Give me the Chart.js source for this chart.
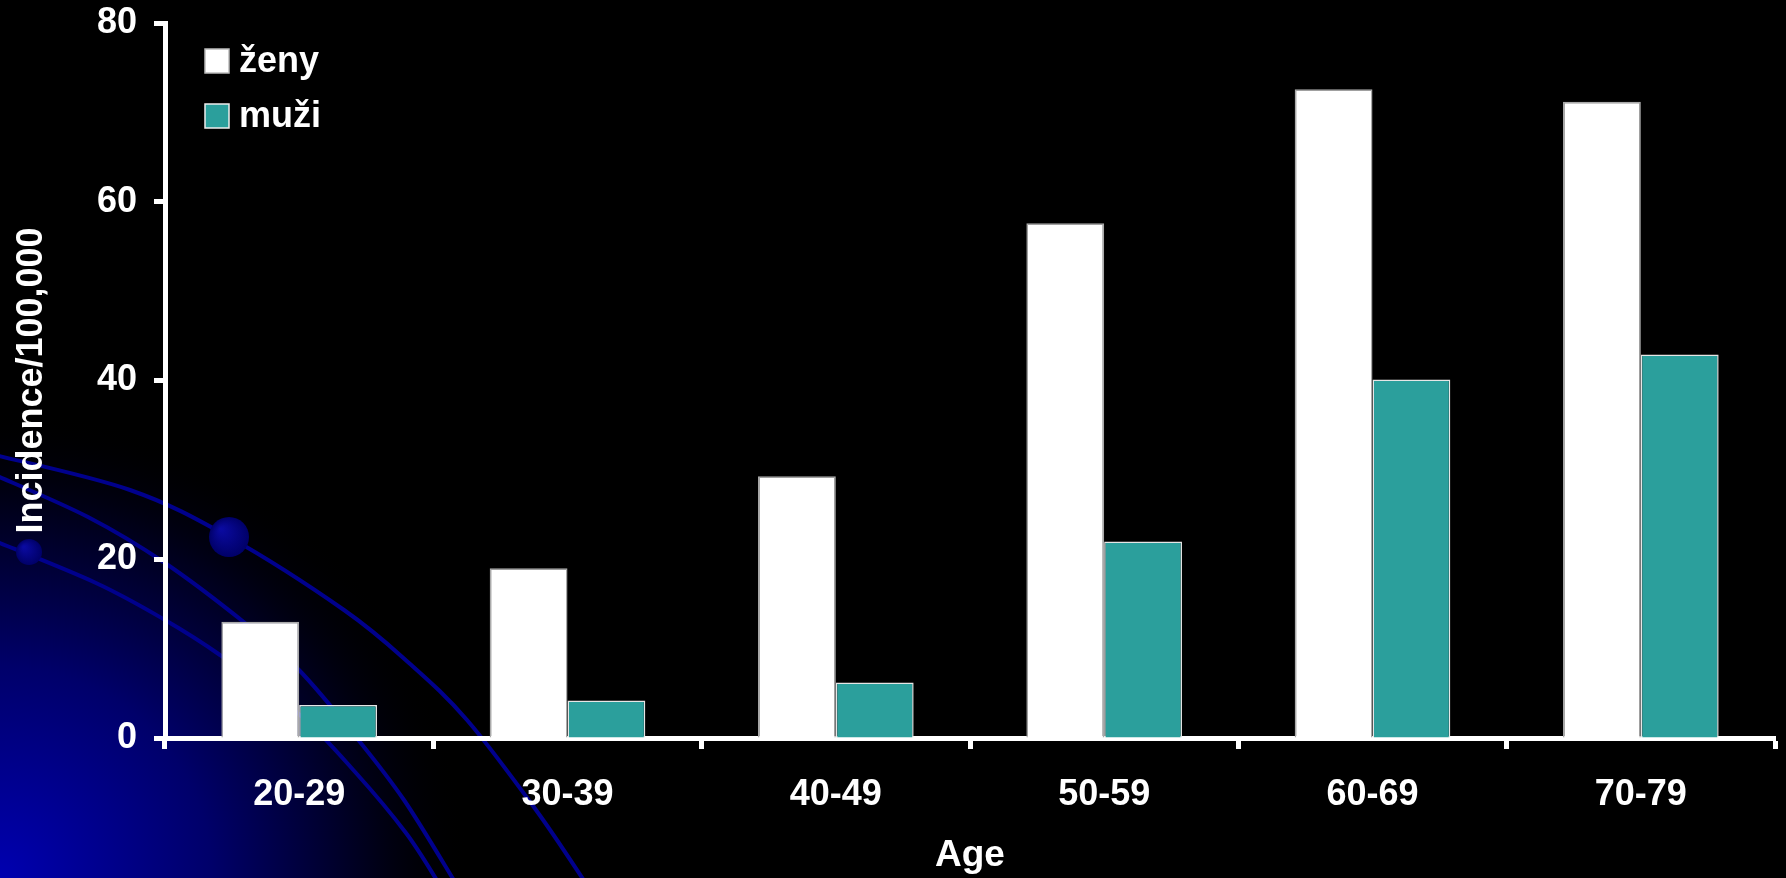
<!DOCTYPE html>
<html>
<head>
<meta charset="utf-8">
<script src="https://cdn.jsdelivr.net/npm/chart.js@4.4.1/dist/chart.umd.min.js"></script>
<style>
  html, body { margin: 0; padding: 0; background: #000; }
  #wrap { width: 1786px; height: 878px; }
</style>
</head>
<body>
<div id="wrap"><canvas id="c" width="1786" height="878"></canvas></div>
<script>
const categories = ['20-29', '30-39', '40-49', '50-59', '60-69', '70-79'];
const zenyValues = [13.0, 19.0, 29.3, 57.6, 72.6, 71.2];
const muziValues = [3.7, 4.2, 6.2, 22.0, 40.1, 42.9];
const seriesLabels = ['ženy', 'muži'];
const yTickValues = [0, 20, 40, 60, 80];
const xTitle = 'Age';
const yTitle = 'Incidence/100,000';

const FONT = "'Liberation Sans', Arial, sans-serif";

function smoothPath(ctx, pts) {
  ctx.moveTo(pts[0][0], pts[0][1]);
  for (let i = 0; i < pts.length - 1; i++) {
    const p0 = pts[Math.max(i - 1, 0)], p1 = pts[i], p2 = pts[i + 1], p3 = pts[Math.min(i + 2, pts.length - 1)];
    const c1x = p1[0] + (p2[0] - p0[0]) / 6, c1y = p1[1] + (p2[1] - p0[1]) / 6;
    const c2x = p2[0] - (p3[0] - p1[0]) / 6, c2y = p2[1] - (p3[1] - p1[1]) / 6;
    ctx.bezierCurveTo(c1x, c1y, c2x, c2y, p2[0], p2[1]);
  }
}

const backgroundPlugin = {
  id: 'bgDecor',
  beforeDraw(chart) {
    const ctx = chart.ctx;
    const W = chart.width, H = chart.height;
    ctx.save();
    ctx.fillStyle = '#000';
    ctx.fillRect(0, 0, W, H);
    const g = ctx.createRadialGradient(0, H, 0, 0, H, 470);
    g.addColorStop(0, '#0000b0');
    g.addColorStop(0.45, '#00006a');
    g.addColorStop(0.8, '#000018');
    g.addColorStop(1, 'rgba(0,0,0,0)');
    ctx.fillStyle = g;
    ctx.fillRect(0, 0, W, H);

    ctx.strokeStyle = '#00008c';
    ctx.lineWidth = 4;
    const curves = [
      [[-5,455],[130,490],[229,537],[344,610],[409,663],[467,720],[536,810],[585,882]],
      [[-5,475],[88,517],[165,563],[245,623],[299,670],[356,737],[404,800],[455,882]],
      [[-5,541],[96,583],[165,620],[220,655],[300,715],[356,773],[406,833],[438,882]]
    ];
    curves.forEach(pts => { ctx.beginPath(); smoothPath(ctx, pts); ctx.stroke(); });

    const circles = [[229, 537, 20], [29, 552, 13]];
    circles.forEach(([cx, cy, r]) => {
      const cg = ctx.createRadialGradient(cx - r * 0.4, cy - r * 0.4, 1, cx, cy, r);
      cg.addColorStop(0, '#0a0aa0');
      cg.addColorStop(1, '#000068');
      ctx.fillStyle = cg;
      ctx.beginPath();
      ctx.ellipse(cx, cy, r, r, 0, 0, Math.PI * 2);
      ctx.fill();
    });
    ctx.restore();
  }
};

const legendPlugin = {
  id: 'insideLegend',
  afterDraw(chart) {
    const ctx = chart.ctx;
    ctx.save();
    chart.data.datasets.forEach((ds, i) => {
      const y = 49 + i * 55;
      ctx.fillStyle = ds.backgroundColor;
      ctx.fillRect(205, y, 24, 24);
      ctx.strokeStyle = i === 0 ? '#bbbbbb' : '#eeeeee';
      ctx.lineWidth = 1.5;
      ctx.strokeRect(205, y, 24, 24);
      ctx.fillStyle = '#ffffff';
      ctx.font = 'bold 36px ' + FONT;
      ctx.textBaseline = 'middle';
      ctx.textAlign = 'left';
      ctx.fillText(ds.label, 239, y + 13);
    });
    ctx.restore();
  }
};

new Chart(document.getElementById('c'), {
  type: 'bar',
  data: {
    labels: categories,
    datasets: [
      { label: seriesLabels[0], data: zenyValues, backgroundColor: '#ffffff', borderColor: '#aaaaaa', borderWidth: 1.5, borderSkipped: 'bottom' },
      { label: seriesLabels[1], data: muziValues, backgroundColor: '#2b9f9c', borderColor: '#e6e6e6', borderWidth: 1.5, borderSkipped: 'bottom' }
    ]
  },
  options: {
    responsive: false,
    animation: false,
    devicePixelRatio: 1,
    layout: { padding: { top: 23, right: 11, left: 0, bottom: 0 } },
    datasets: { bar: { barPercentage: 1.0, categoryPercentage: 0.58 } },
    plugins: {
      legend: { display: false },
      tooltip: { enabled: false }
    },
    scales: {
      x: {
        offset: true,
        grid: { display: true, drawOnChartArea: false, drawTicks: true, tickLength: 11, tickColor: '#ffffff', tickWidth: 5, offset: true },
        border: { display: true, color: '#ffffff', width: 5 },
        ticks: { color: '#ffffff', font: { family: FONT, size: 36, weight: 'bold' }, padding: 24, maxRotation: 0 },
        title: { display: true, text: xTitle, color: '#ffffff', font: { family: FONT, size: 37, weight: 'bold' }, padding: { top: 0, bottom: 0 } },
        afterFit(scale) { scale.height = 140; scale.paddingLeft = 0; scale.paddingRight = 0; }
      },
      y: {
        min: 0,
        max: 80,
        afterBuildTicks(scale) { scale.ticks = yTickValues.map(v => ({ value: v })); },
        grid: { display: true, drawOnChartArea: false, drawTicks: true, tickLength: 11, tickColor: '#ffffff', tickWidth: 5 },
        border: { display: true, color: '#ffffff', width: 5 },
        ticks: { color: '#ffffff', font: { family: FONT, size: 36, weight: 'bold' }, padding: 17 },
        title: { display: true, text: yTitle, color: '#ffffff', font: { family: FONT, size: 36, weight: 'bold' }, padding: { top: 10, bottom: 0 } },
        afterFit(scale) { scale.width = 165; scale.paddingTop = 0; scale.paddingBottom = 0; }
      }
    }
  },
  plugins: [backgroundPlugin, legendPlugin]
});
</script>
</body>
</html>
